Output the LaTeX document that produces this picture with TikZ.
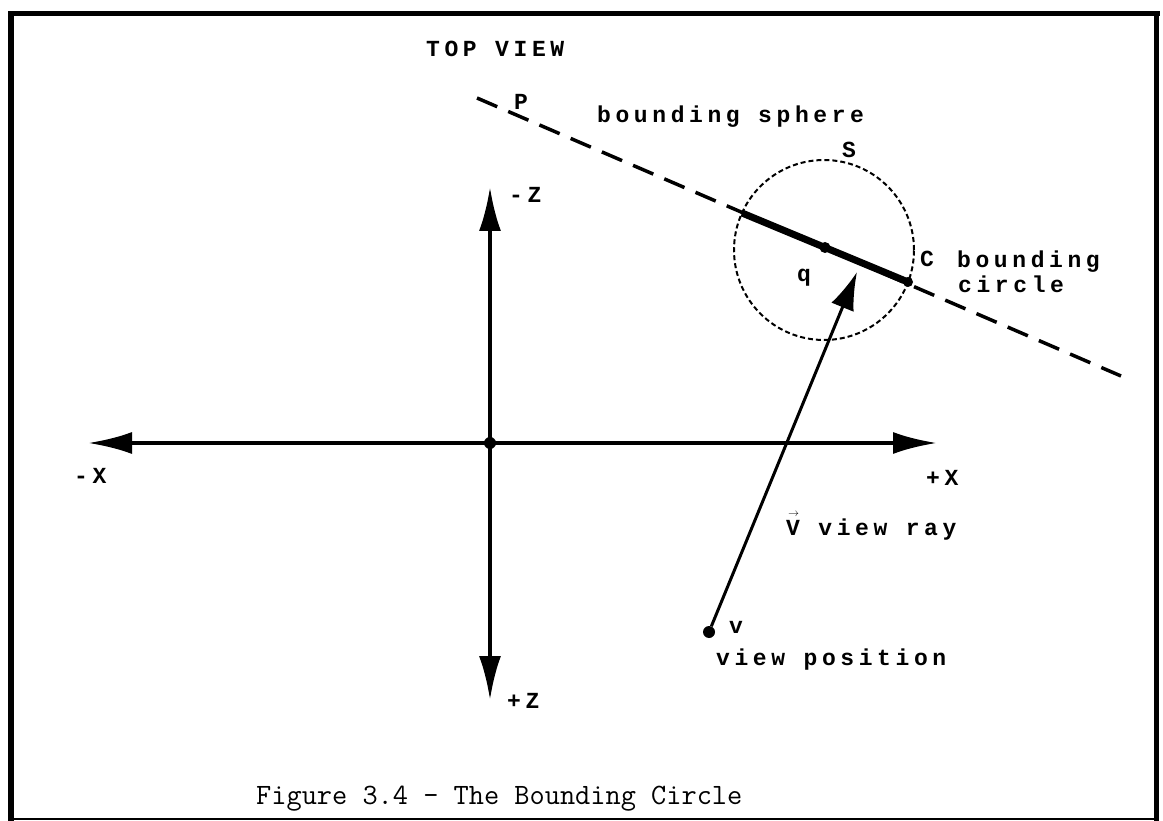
\documentclass[tikz,border=0pt]{standalone}
\usepackage{fontspec}
\usetikzlibrary{arrows.meta}
\newfontfamily\printfont[LetterSpace=20]{Liberation Mono}
\tikzset{
  lbl/.style={font=\printfont\fontsize{23}{26}\selectfont\bfseries, inner sep=0pt, anchor=base west},
  axis/.style={line width=4pt, -{Latex[length=44pt,width=22pt]}},
  ray/.style={line width=3pt, -{Latex[length=38pt,width=24pt]}},
  plane/.style={line width=3.5pt, dash pattern=on 22pt off 12pt},
  sphere/.style={circle, draw, line width=2pt, dash pattern=on 5pt off 3pt, inner sep=0pt, outer sep=0pt},
  dotpt/.style={circle, fill, inner sep=0pt, minimum size=12pt},
}
\begin{document}
\begin{tikzpicture}[x=1pt,y=-1pt]
\useasboundingbox (0,0) rectangle (1163,821);
% frame
\draw[line width=5pt] (8,14) -- (1160,14);
\draw[line width=6pt] (11,12) -- (11,821);
\draw[line width=5pt] (1156,12) -- (1156,821);
\draw[line width=2pt] (11,819) -- (1156,819);
% axes
\node[dotpt] (origin) at (490,443) {};
\coordinate (xneg) at (88,443);
\coordinate (xpos) at (937,443);
\coordinate (zneg) at (490,187);
\coordinate (zpos) at (490,700);
\foreach \e in {xneg,xpos,zneg,zpos}
  \draw[axis] (origin.center) -- (\e);
% plane P and bounding sphere S
\coordinate (p1) at (477,98);
\coordinate (p2) at (1121,376);
\draw[plane] (p1) -- (p2);
\node[sphere, minimum size=180pt] (sph) at (824,250) {};
% bounding circle C
\coordinate (c1) at (742,213);
\coordinate (c2) at (908,282);
\draw[line width=7pt] (c1) -- (c2);
\node[dotpt, minimum size=11pt] (q) at (825,247.5) {};
\node[dotpt, minimum size=10pt] (cend) at (c2) {};
% view ray
\node[dotpt] (v) at (709,632) {};
\coordinate (tip) at (857,272);
\draw[ray] (v) -- (tip);
% labels
\node[lbl] (topview) at (426,57) {TOP VIEW};
\node[lbl] (lP) at (514,110) {P};
\node[lbl] (lsphere) at (597,123) {bounding sphere};
\node[lbl] (lS) at (842,158) {S};
\node[lbl] (lC) at (920,267) {C};
\node[lbl] (lbound) at (957,268) {bounding};
\node[lbl] (lcircle) at (958,293) {circle};
\node[lbl] (lq) at (797,282) {q};
\node[lbl] (lzneg) at (509,203) {-Z};
\node[lbl] (lzpos) at (507,708) {+Z};
\node[lbl] (lxneg) at (74,483) {-X};
\node[lbl] (lxpos) at (926,485) {+X};
\node[lbl] (lray) at (786,535) {\makebox[0pt][l]{\hspace{2pt}\raisebox{19pt}{\fontsize{11}{11}\selectfont$\rightarrow$}}V view ray};
\node[lbl] (lv) at (729,633) {v};
\node[lbl] (lpos) at (716,665) {view position};
\node[font=\ttfamily\fontsize{29.5}{33}\selectfont, inner sep=0pt, anchor=base west] (caption) at (256,804) {Figure 3.4 - The Bounding Circle};
\end{tikzpicture}
\end{document}
